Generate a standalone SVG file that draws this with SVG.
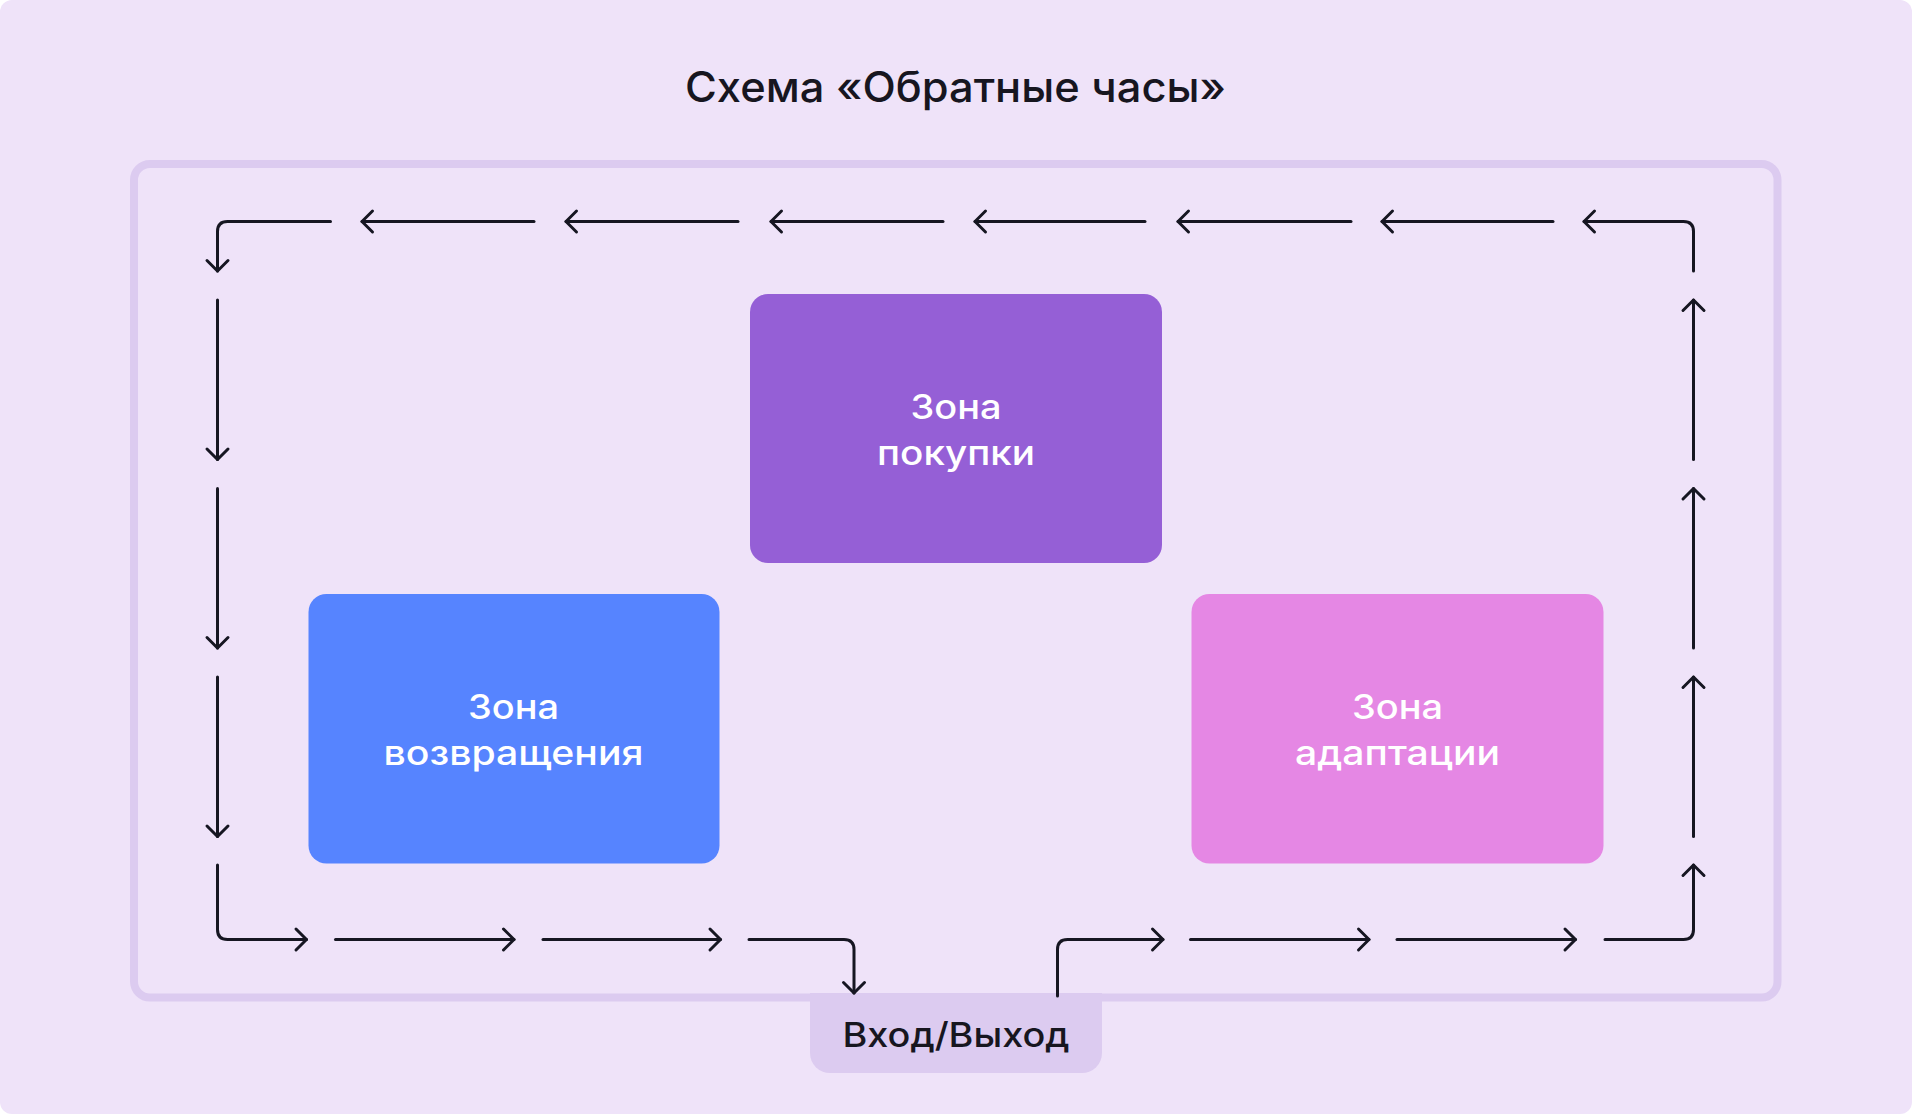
<svg xmlns="http://www.w3.org/2000/svg" width="1912" height="1114" viewBox="0 0 1912 1114">
  <defs>
    <style>
      .conn { fill: none; stroke: #161622; stroke-width: 3; stroke-linecap: round; stroke-linejoin: round; marker-end: url(#ah); }
      .zone-text { font-family: Inter, "Noto Sans", "Liberation Sans", sans-serif; font-weight: 500; font-size: 34px; fill: #FFFFFF; text-anchor: middle; }
      .dark-text { font-family: Inter, "Noto Sans", "Liberation Sans", sans-serif; font-weight: 500; fill: #17161F; text-anchor: middle; }
    </style>
    <marker id="ah" markerUnits="userSpaceOnUse" viewBox="-14 -14 28 28" markerWidth="28" markerHeight="28" refX="0" refY="0" orient="auto">
      <path d="M-10.5,-10.5 L0,0 L-10.5,10.5" fill="none" stroke="#161622" stroke-width="3" stroke-linecap="round" stroke-linejoin="round"/>
    </marker>
  </defs>

  <rect x="0" y="0" width="1912" height="1114" fill="#FFFFFF"/>
  <rect id="background" x="0" y="0" width="1912" height="1114" rx="12" fill="#EFE3F9"/>

  <text id="title" class="dark-text" x="955.5" y="102" font-size="42" textLength="541" lengthAdjust="spacingAndGlyphs">Схема «Обратные часы»</text>

  <rect id="frame" x="134" y="164" width="1643.5" height="833.5" rx="16" fill="none" stroke="#DCCBF0" stroke-width="8"/>

  <g id="entry">
    <path d="M810,993 H1102 V1053 A20,20 0 0 1 1082,1073 H830 A20,20 0 0 1 810,1053 Z" fill="#DCCBF0"/>
    <text class="dark-text" x="956" y="1046.5" font-size="34" textLength="227" lengthAdjust="spacingAndGlyphs">Вход/Выход</text>
  </g>

  <g id="zone-purchase">
    <rect x="750" y="294" width="412" height="269" rx="18" fill="#955FD6"/>
    <text class="zone-text" x="956" y="418.5" textLength="91" lengthAdjust="spacingAndGlyphs">Зона</text>
    <text class="zone-text" x="956" y="465" textLength="158" lengthAdjust="spacingAndGlyphs">покупки</text>
  </g>

  <g id="zone-return">
    <rect x="308.5" y="594" width="411" height="269.5" rx="18" fill="#5684FF"/>
    <text class="zone-text" x="513.5" y="718.5" textLength="91" lengthAdjust="spacingAndGlyphs">Зона</text>
    <text class="zone-text" x="513.5" y="765" textLength="260" lengthAdjust="spacingAndGlyphs">возвращения</text>
  </g>

  <g id="zone-adaptation">
    <rect x="1191.5" y="594" width="412" height="269.5" rx="18" fill="#E587E4"/>
    <text class="zone-text" x="1397.5" y="718.5" textLength="91" lengthAdjust="spacingAndGlyphs">Зона</text>
    <text class="zone-text" x="1397.5" y="765" textLength="205" lengthAdjust="spacingAndGlyphs">адаптации</text>
  </g>

  <g id="connectors">
    <!-- top row, leftwards -->
    <path class="conn" d="M1693.5,271 V231.5 Q1693.5,221.5 1683.5,221.5 H1584"/>
    <path class="conn" d="M1553,221.5 H1382"/>
    <path class="conn" d="M1351,221.5 H1178"/>
    <path class="conn" d="M1145,221.5 H975"/>
    <path class="conn" d="M943,221.5 H771"/>
    <path class="conn" d="M738,221.5 H566"/>
    <path class="conn" d="M534,221.5 H362"/>
    <path class="conn" d="M330.5,221.5 H227.5 Q217.5,221.5 217.5,231.5 V271"/>
    <!-- left column, downwards -->
    <path class="conn" d="M217.5,300 V459.5"/>
    <path class="conn" d="M217.5,488.5 V648"/>
    <path class="conn" d="M217.5,677 V836.5"/>
    <path class="conn" d="M217.5,865 V929.5 Q217.5,939.5 227.5,939.5 H306.5"/>
    <!-- bottom row, rightwards -->
    <path class="conn" d="M335.5,939.5 H514"/>
    <path class="conn" d="M543,939.5 H720.5"/>
    <path class="conn" d="M749,939.5 H844 Q854,939.5 854,949.5 V993"/>
    <path class="conn" d="M1057.5,996 V949.5 Q1057.5,939.5 1067.5,939.5 H1163"/>
    <path class="conn" d="M1190.5,939.5 H1369"/>
    <path class="conn" d="M1397,939.5 H1575.5"/>
    <path class="conn" d="M1605,939.5 H1683.5 Q1693.5,939.5 1693.5,929.5 V865"/>
    <!-- right column, upwards -->
    <path class="conn" d="M1693.5,836.5 V677"/>
    <path class="conn" d="M1693.5,648 V488.5"/>
    <path class="conn" d="M1693.5,459.5 V300"/>
  </g>
</svg>
